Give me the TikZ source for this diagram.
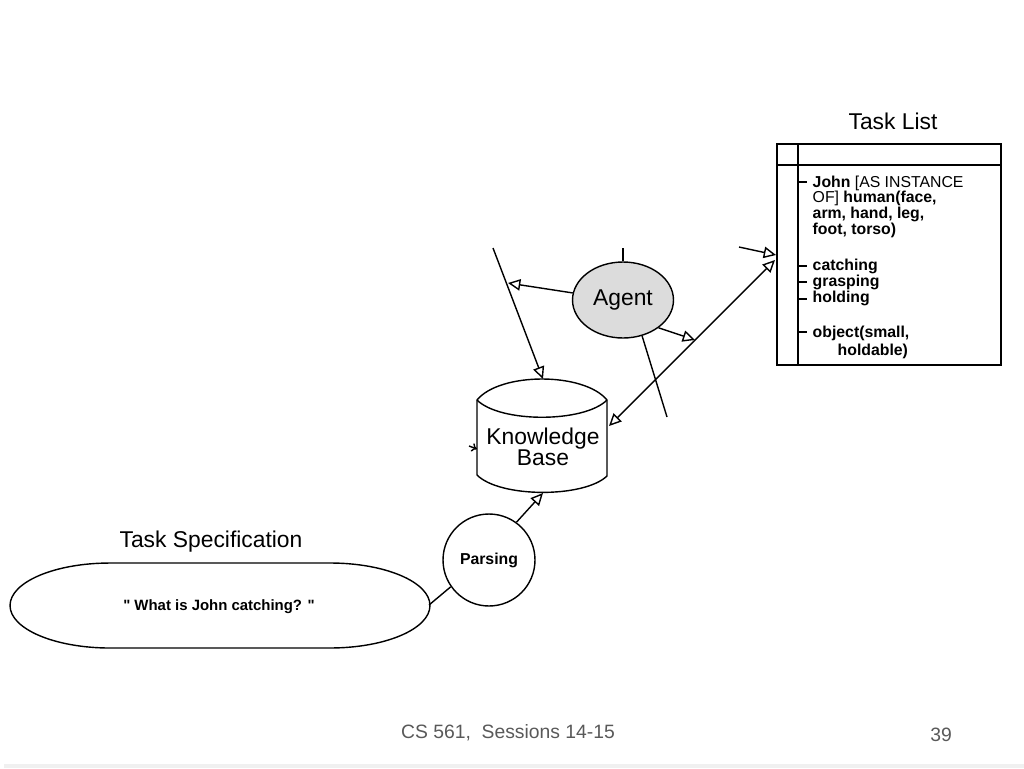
\documentclass[tikz,border=0pt]{standalone}
\usepackage{fontspec}
\setmainfont{Liberation Sans}[Ligatures=TeXOff]
\usetikzlibrary{arrows.meta,shapes.geometric}
\definecolor{footgray}{RGB}{89,89,89}
\definecolor{agentgray}{RGB}{220,220,220}
\begin{document}
\begin{tikzpicture}[x=0.02cm,y=-0.02cm,line width=0.8pt,
  hollow/.style={-{Triangle[open,length=7pt,width=6.5pt]}},
  hollowboth/.style={{Triangle[open,length=7pt,width=6.5pt]}-{Triangle[open,length=7pt,width=6.5pt]}},
  title/.style={font=\fontsize{13}{15}\selectfont},
  item/.style={anchor=base west,inner sep=0pt,font=\fontsize{9}{9}\selectfont\bfseries},
  foot/.style={text=footgray,font=\fontsize{11}{13}\selectfont}]
\useasboundingbox (0,0) rectangle (1024,768);
\fill[gray!12] (4,764) rectangle (1024,768);

% task list
\node[title](TLtitle) at (893,121){Task List};
\draw[line width=1pt] (777,144) rectangle (1001,365);
\draw (777,165) -- (1001,165);
\draw (798,144) -- (798,365);
\foreach \y in {182,266,282,299,332}
  \draw (798,\y) -- (807,\y);
\foreach \y/\t [count=\i] in {187/{John {\mdseries [AS INSTANCE}},
  202/{{\mdseries OF]} human(face,}, 218/{arm, hand, leg,}, 234/{foot, torso)},
  270/{catching}, 286/{grasping}, 302/{holding}, 337/{object(small,}}
  \node[item](TL\i) at (812,\y){\t};
\node[item](TL9) at (837,355){holdable)};

% agent
\node[shape=ellipse,draw,fill=agentgray,minimum width=1.88cm,minimum height=1.52cm,
  font=\fontsize{13}{15}\selectfont](agent) at (623,300){Agent};
\coordinate (agup) at (623,248);
\coordinate (agdown) at (667,417);
\draw (agent.north) -- (agup);
\draw (agent.-62) -- (agdown);

% knowledge base
\draw[fill=white] (477,400) .. controls (500,372) and (584,372) .. (607,400)
  -- (607,476) .. controls (584,498) and (500,498) .. (477,475) -- cycle;
\draw (477,400) .. controls (500,423) and (584,423) .. (607,400);
\node[align=center,font=\fontsize{13}{12}\selectfont](kb) at (543,447){Knowledge\\Base};
\coordinate (kbtop) at (543,379);
\coordinate (kbbot) at (543,493);
\coordinate (kbright) at (609,426);
\coordinate (kbleft) at (477,449);
\coordinate (kbin) at (469,446);
\coordinate (topL) at (493,248);
\coordinate (onL) at (508,283);
\coordinate (onD) at (695,340);
\coordinate (tlA) at (776,255);
\coordinate (tlB) at (775,260);
\coordinate (tlin) at (739,247);
\draw[hollow] (topL) -- (kbtop);
\draw[hollow] (agent.172) -- (onL);
\draw[hollow] (agent.-38) -- (onD);
\draw[hollowboth] (kbright) -- (tlB);
\draw[hollow] (tlin) -- (tlA);
\draw[-{To[length=3pt,width=5pt]}] (kbin) -- (kbleft);

% parsing
\node[shape=circle,draw,minimum size=1.84cm,font=\fontsize{9}{11}\selectfont\bfseries](parsing) at (489,560){Parsing};
\draw[hollow] (parsing.54) -- (kbbot);

% task specification
\node[title](TStitle) at (211,542){Task Specification};
\draw (110,563) -- (330,563) arc[start angle=90,end angle=-90,x radius=2cm,y radius=0.85cm]
  -- (110,648) arc[start angle=270,end angle=90,x radius=2cm,y radius=0.85cm] -- cycle;
\node[font=\fontsize{8.5}{10}\selectfont\bfseries](spec) at (219,607){" What is John catching? "};
\coordinate (specE) at (429,605);
\draw (parsing.215) -- (specE);

% footer
\node[foot](footer) at (508,733){CS 561,\ \ Sessions 14-15};
\node[foot](page) at (941,735){39};
\end{tikzpicture}
\end{document}
